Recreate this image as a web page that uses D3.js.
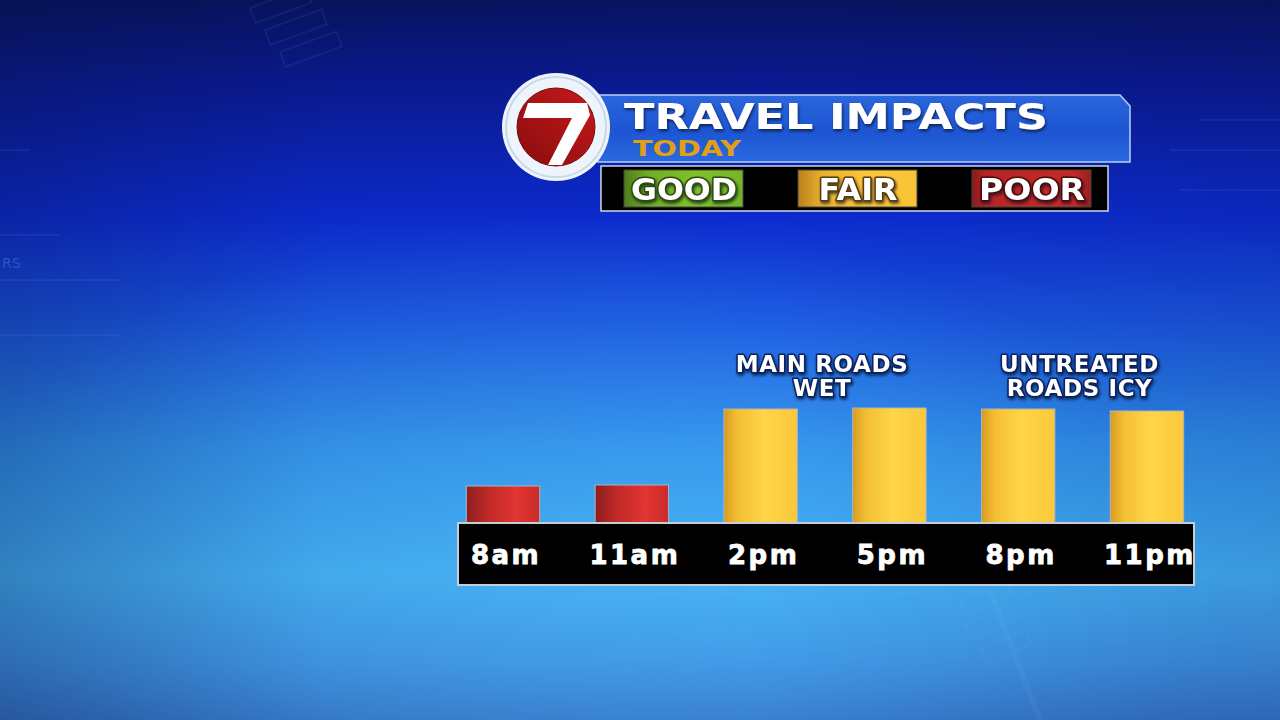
<!DOCTYPE html>
<html>
<head>
<meta charset="utf-8">
<script src="https://cdn.jsdelivr.net/npm/d3@7"></script>
<style>
  html, body { margin: 0; padding: 0; background: #0a1a80; overflow: hidden; }
  svg { display: block; }
</style>
</head>
<body>
<svg id="chart"></svg>
<script>
// --- data ---
const times = ['8am', '11am', '2pm', '5pm', '8pm', '11pm'];
const impact = [37, 38, 114, 115, 114, 112];
const status = ['POOR', 'POOR', 'FAIR', 'FAIR', 'FAIR', 'FAIR'];
const levels = ['GOOD', 'FAIR', 'POOR'];
const notes = [
  { from: '2pm', to: '5pm', lines: ['MAIN ROADS', 'WET'] },
  { from: '8pm', to: '11pm', lines: ['UNTREATED', 'ROADS ICY'] }
];
const title = 'TRAVEL IMPACTS';
const subtitle = 'TODAY';

class TravelChart {

  constructor(config) {
    this.config = {
      parent: config.parent,
      width: config.width || 1280,
      height: config.height || 720
    };
    this.init();
  }

  init() {
    let self = this;

    self.svg = d3.select(self.config.parent)
      .attr('width', self.config.width)
      .attr('height', self.config.height);

    self.defs = self.svg.append('defs');
    self.makeDefs();

    // background
    self.svg.append('rect')
      .attr('width', self.config.width).attr('height', self.config.height)
      .attr('fill', 'url(#bg)');
    self.svg.append('rect')
      .attr('width', self.config.width).attr('height', self.config.height)
      .attr('fill', 'url(#glow)');
    self.svg.append('rect')
      .attr('width', self.config.width).attr('height', self.config.height)
      .attr('fill', 'url(#side)');
    self.decor();

    self.xscale = d3.scaleBand()
      .domain(times)
      .range([438, 1212])
      .paddingInner(0.43)
      .paddingOuter(0.22);

    self.yscale = d3.scaleLinear()
      .domain([0, 120])
      .range([523, 403]);

    self.color = d3.scaleOrdinal()
      .domain(levels)
      .range(['url(#gGood)', 'url(#gFair)', 'url(#gPoor)']);

    self.chart = self.svg.append('g');
  }

  makeDefs() {
    let defs = this.defs;
    const lin = (id, stops, horiz, x1, y1, x2, y2) => {
      let g = defs.append('linearGradient').attr('id', id)
        .attr('x1', x1 || 0).attr('y1', y1 || 0)
        .attr('x2', x2 !== undefined ? x2 : (horiz ? 1 : 0))
        .attr('y2', y2 !== undefined ? y2 : (horiz ? 0 : 1));
      stops.forEach(s => g.append('stop').attr('offset', s[0]).attr('stop-color', s[1])
        .attr('stop-opacity', s[2] === undefined ? 1 : s[2]));
    };
    lin('bg', [[0, '#08135e'], [0.12, '#0a1a92'], [0.3, '#0c2bcf'], [0.45, '#1a56e0'],
      [0.62, '#2f8eea'], [0.8, '#42adf3'], [0.92, '#3c8ee0'], [1, '#3472c6']]);
    lin('side', [[0, '#06103a', 0.28], [0.25, '#06103a', 0.05], [0.6, '#06103a', 0], [1, '#06103a', 0.12]], true);
    let rg = defs.append('radialGradient').attr('id', 'glow')
      .attr('cx', 0.45).attr('cy', 0.8).attr('r', 0.5);
    rg.append('stop').attr('offset', 0).attr('stop-color', '#55c4ff').attr('stop-opacity', 0.35);
    rg.append('stop').attr('offset', 1).attr('stop-color', '#55c4ff').attr('stop-opacity', 0);

    lin('banner', [[0, '#2a66dc'], [0.55, '#1d55d2'], [1, '#2a6ae0']]);
    lin('gPoor', [[0, '#8c1e1e'], [0.3, '#bf2a28'], [0.68, '#e23531'], [1, '#c92c2a']], true);
    lin('gFair', [[0, '#d69a22'], [0.18, '#f4be32'], [0.55, '#ffd54a'], [1, '#fbc73a']], true);
    lin('gGood', [[0, '#4f7e1a'], [0.2, '#6fac25'], [0.6, '#80c229'], [1, '#74b526']], true);
    lin('lFair', [[0, '#b8801c'], [0.2, '#eab030'], [0.6, '#fcc838'], [1, '#f8c236']], true);
    lin('lPoor', [[0, '#8a1a1a'], [0.12, '#b82424'], [0.85, '#c42a28'], [1, '#9a1e1e']], true);
    lin('logoRed', [[0, '#8a0c0e'], [1, '#c8191b']], false, 0, 1, 1, 0);

    let f = defs.append('filter').attr('id', 'shadow')
      .attr('x', '-10%').attr('y', '-20%').attr('width', '130%').attr('height', '160%');
    f.append('feDropShadow').attr('dx', 1).attr('dy', 2).attr('stdDeviation', 1.5)
      .attr('flood-color', '#000820').attr('flood-opacity', 0.75);
  }

  decor() {
    let g = this.svg.append('g')
      .attr('fill', 'none').attr('stroke', '#8fc0ff').attr('stroke-opacity', 0.08).attr('stroke-width', 2);
    // faint studio graphics
    [[250, 8, 60, 16], [265, 30, 60, 16], [280, 52, 60, 16]].forEach(r =>
      g.append('rect').attr('x', r[0]).attr('y', r[1]).attr('width', r[2]).attr('height', r[3])
        .attr('transform', `rotate(-20 ${r[0]} ${r[1]})`));
    [[0, 150, 30], [0, 235, 60], [0, 280, 120], [0, 335, 120], [1200, 120, 80], [1170, 150, 110], [1180, 190, 100]]
      .forEach(l => g.append('line').attr('x1', l[0]).attr('y1', l[1]).attr('x2', l[0] + l[2]).attr('y2', l[1]));
    [[960, 600], [965, 625], [980, 650]].forEach(l =>
      g.append('rect').attr('x', l[0]).attr('y', l[1]).attr('width', 50).attr('height', 16)
        .attr('transform', `rotate(-25 ${l[0]} ${l[1]})`));
    g.append('line').attr('x1', 990).attr('y1', 590).attr('x2', 1040).attr('y2', 720).attr('stroke-width', 6);
    this.svg.append('text').attr('x', 2).attr('y', 268).text('RS')
      .attr('fill', '#9ccaff').attr('fill-opacity', 0.25)
      .style('font-family', 'DejaVu Sans').style('font-size', '14px');
  }

  outlined(sel, strokeColor) {
    return sel.attr('fill', '#fff')
      .attr('stroke', strokeColor).attr('stroke-width', 3)
      .attr('stroke-linejoin', 'round')
      .style('paint-order', 'stroke')
      .attr('filter', 'url(#shadow)')
      .style('font-family', 'DejaVu Sans').style('font-weight', 'bold');
  }

  render() {
    let self = this;

    // header banner
    self.svg.append('path')
      .attr('d', 'M598,95 L1120,95 L1130,106 L1130,162 L598,162 Z')
      .attr('fill', 'url(#banner)')
      .attr('stroke', '#b8d0f4').attr('stroke-width', 1.5);

    self.svg.append('text')
      .attr('x', 624).attr('y', 129)
      .attr('textLength', 424).attr('lengthAdjust', 'spacingAndGlyphs')
      .attr('fill', '#fff').attr('filter', 'url(#shadow)')
      .style('font-family', 'DejaVu Sans').style('font-weight', 'bold').style('font-size', '36px')
      .text(title);

    self.svg.append('text')
      .attr('x', 633).attr('y', 156)
      .attr('textLength', 108).attr('lengthAdjust', 'spacingAndGlyphs')
      .attr('fill', '#e0a016')
      .style('font-family', 'DejaVu Sans').style('font-weight', 'bold').style('font-size', '21px')
      .text(subtitle);

    // logo
    let logo = self.svg.append('g').attr('transform', 'translate(556,127)');
    logo.append('circle').attr('r', 54).attr('fill', '#eef4fb');
    logo.append('circle').attr('r', 50).attr('fill', 'none').attr('stroke', '#c8d8ee').attr('stroke-width', 2);
    logo.append('circle').attr('r', 39).attr('fill', 'url(#logoRed)')
      .attr('stroke', '#7a0a0c').attr('stroke-width', 1);
    logo.append('path')
      .attr('d', 'M-33,-9 L-28,-24 L31,-24 L34,-12 L6,38 L-8,38 L16,-9 Z')
      .attr('fill', '#fff');

    // legend
    self.svg.append('rect')
      .attr('x', 601).attr('y', 166).attr('width', 507).attr('height', 45)
      .attr('fill', '#000').attr('stroke', '#d0d8e4').attr('stroke-width', 1.5);

    const legX = d3.scalePoint().domain(levels).range([684, 1032]);
    const legFill = { GOOD: 'url(#gGood)', FAIR: 'url(#lFair)', POOR: 'url(#lPoor)' };
    const legStroke = { GOOD: '#2e4a0c', FAIR: '#5a3a08', POOR: '#4a0808' };
    let leg = self.svg.append('g').selectAll('g')
      .data(levels).enter().append('g')
      .attr('transform', d => `translate(${legX(d)},0)`);
    leg.append('rect')
      .attr('x', -60).attr('y', 170).attr('width', 119).attr('height', 37)
      .attr('fill', d => legFill[d]).attr('stroke', '#444').attr('stroke-width', 1);
    self.outlined(leg.append('text'), d => legStroke[d])
      .attr('x', 0).attr('y', 200)
      .attr('text-anchor', 'middle')
      .attr('textLength', d => d === 'FAIR' ? 79 : 106)
      .attr('lengthAdjust', 'spacingAndGlyphs')
      .style('font-size', '31px')
      .text(d => d);

    // bars
    self.chart.selectAll('rect.bar')
      .data(times).enter()
      .append('rect').attr('class', 'bar')
      .attr('x', d => self.xscale(d))
      .attr('width', self.xscale.bandwidth())
      .attr('y', (d, i) => self.yscale(impact[i]))
      .attr('height', (d, i) => self.yscale(0) - self.yscale(impact[i]))
      .attr('fill', (d, i) => self.color(status[i]))
      .attr('stroke', '#b0b4bc').attr('stroke-width', 1);

    // axis strip
    self.chart.append('rect')
      .attr('x', 458).attr('y', self.yscale(0))
      .attr('width', 736).attr('height', 62)
      .attr('fill', '#000').attr('stroke', '#c8ccd4').attr('stroke-width', 2);

    self.chart.selectAll('text.tick')
      .data(times).enter()
      .append('text').attr('class', 'tick')
      .attr('x', d => self.xscale(d) + self.xscale.bandwidth() / 2 + 3)
      .attr('y', 564)
      .attr('text-anchor', 'middle')
      .attr('fill', '#fff')
      .attr('stroke', '#fff').attr('stroke-width', 0.8)
      .style('font-family', 'DejaVu Sans').style('font-weight', 'bold')
      .style('font-size', '26px').style('letter-spacing', '2.5px')
      .text(d => d);

    // annotations
    const mid = n => (self.xscale(n.from) + self.xscale(n.to) + self.xscale.bandwidth()) / 2 - 3;
    let ann = self.chart.selectAll('g.note')
      .data(notes).enter()
      .append('g').attr('class', 'note');
    self.outlined(ann.selectAll('text')
      .data(n => n.lines.map((l, i) => ({ l: l, i: i, x: mid(n) })))
      .enter().append('text'), '#0a2060')
      .attr('x', d => d.x).attr('y', d => 372 + d.i * 24)
      .attr('text-anchor', 'middle')
      .style('font-size', '23px').style('letter-spacing', '0.6px')
      .text(d => d.l);
  }
}

let chart = new TravelChart({ parent: '#chart', width: 1280, height: 720 });
chart.render();
</script>
</body>
</html>
